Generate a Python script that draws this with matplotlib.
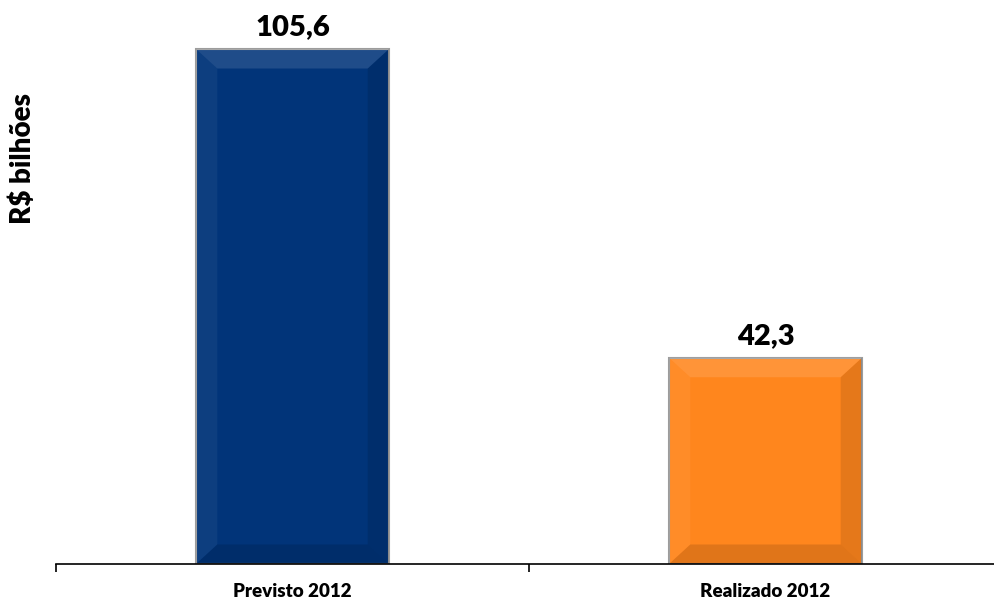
import matplotlib
matplotlib.use('Agg')
import matplotlib.pyplot as plt
from matplotlib.patches import Polygon

plt.rcParams['font.family'] = ['Lato', 'DejaVu Sans']

categories = ['Previsto 2012', 'Realizado 2012']
values = [105.6, 42.3]
value_labels = ['105,6', '42,3']
colors = ['#013479', '#ff861d']

fig = plt.figure(figsize=(9.95, 6.02), dpi=100)
ax = fig.add_axes([56/995, 38/602, 946/995, 564/602])

x = range(len(categories))
bars = ax.bar(x, values, width=0.408, color=colors, edgecolor='#9c9c9c',
              linewidth=1.5, zorder=2)

# bisel nas barras (efeito 3D do excel)
dx = 0.045
dy = 4.0
for b in bars:
    x0 = b.get_x()
    x1 = x0 + b.get_width()
    h = b.get_height()
    top = [(x0, h), (x1, h), (x1 - dx, h - dy), (x0 + dx, h - dy)]
    left = [(x0, 0), (x0, h), (x0 + dx, h - dy), (x0 + dx, dy)]
    right = [(x1, 0), (x1, h), (x1 - dx, h - dy), (x1 - dx, dy)]
    bottom = [(x0, 0), (x1, 0), (x1 - dx, dy), (x0 + dx, dy)]
    ax.add_patch(Polygon(top, closed=True, fc='white', alpha=0.12, lw=0, zorder=3))
    ax.add_patch(Polygon(left, closed=True, fc='white', alpha=0.05, lw=0, zorder=3))
    ax.add_patch(Polygon(right, closed=True, fc='black', alpha=0.10, lw=0, zorder=3))
    ax.add_patch(Polygon(bottom, closed=True, fc='black', alpha=0.12, lw=0, zorder=3))

for xi, v, lab in zip(x, values, value_labels):
    ax.annotate(lab, (xi, v), xytext=(0, 10), textcoords='offset points',
                ha='center', va='baseline', fontsize=21, fontweight='heavy')

ax.set_xlim(-0.5, 1.5)
ax.set_ylim(0, 115.65)
ax.set_yticks([])
for s in ['left', 'right', 'top']:
    ax.spines[s].set_visible(False)
ax.spines['bottom'].set_linewidth(1.2)

ax.set_xticks(list(x))
ax.set_xticklabels(categories, fontsize=13.5, fontweight='heavy')
ax.tick_params(axis='x', which='major', length=0, pad=14)
ax.set_xticks([-0.5, 0.5, 1.5], minor=True)
ax.tick_params(axis='x', which='minor', length=6, width=1.2)

fig.text(23/995, 1 - 159/602, 'R$ bilhões', rotation=90, ha='center', va='center',
         fontsize=20, fontweight='heavy')

fig.savefig('out.png', dpi=100)
